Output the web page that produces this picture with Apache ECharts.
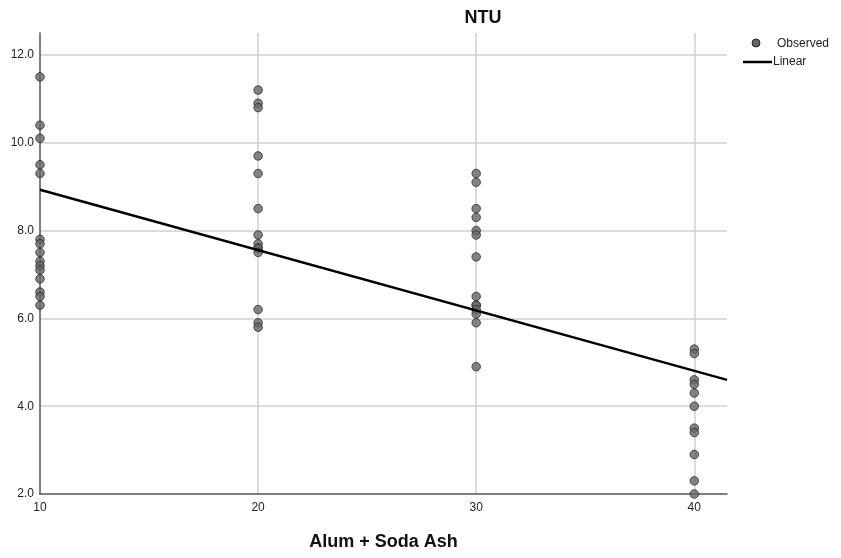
<!DOCTYPE html>
<html>
<head>
<meta charset="utf-8">
<script src="https://cdn.jsdelivr.net/npm/echarts@6/dist/echarts.min.js"></script>
<style>
  html, body { margin: 0; padding: 0; background: #fff; }
  #chart { width: 841px; height: 558px; }
</style>
</head>
<body>
<div id="chart"></div>
<script>
// Dose levels (Alum + Soda Ash) and observed turbidity at each dose
const doses = [10, 20, 30, 40];
const ntuDose10 = [11.5, 10.4, 10.1, 9.5, 9.3, 7.8, 7.7, 7.5, 7.3, 7.2, 7.1, 6.9, 6.6, 6.5, 6.3];
const ntuDose20 = [11.2, 10.9, 10.8, 9.7, 9.3, 8.5, 7.9, 7.7, 7.6, 7.6, 7.5, 6.2, 5.9, 5.8];
const ntuDose30 = [9.3, 9.1, 8.5, 8.3, 8.0, 7.9, 7.4, 6.5, 6.3, 6.3, 6.2, 6.1, 5.9, 4.9];
const ntuDose40 = [5.3, 5.2, 4.6, 4.5, 4.3, 4.0, 3.5, 3.4, 2.9, 2.3, 2.0];
const ntuGroups = [ntuDose10, ntuDose20, ntuDose30, ntuDose40];

// Linear fit of NTU on dose: NTU = fitIntercept + fitSlope * dose
const fitIntercept = 10.305;
const fitSlope = -0.1375;

// Axis ranges
const xMin = 10, xMax = 41.5, xStep = 10;
const yMin = 2, yMax = 12.5, yStep = 2;

const FONT = 'Liberation Sans, Arial, Helvetica, sans-serif';

// Observed points
const observed = [];
doses.forEach((d, i) => ntuGroups[i].forEach(v => observed.push([d, v])));

// Fitted line across the full x range
const fitLine = [xMin, xMax].map(x => [x, fitIntercept + fitSlope * x]);

const chart = echarts.init(document.getElementById('chart'), null, { renderer: 'canvas' });

chart.setOption({
  animation: false,
  backgroundColor: '#ffffff',
  title: {
    text: 'NTU',
    left: 483,
    top: 9,
    padding: 0,
    textAlign: 'center',
    textStyle: { fontFamily: FONT, fontSize: 18, fontWeight: 'bold', color: '#111' }
  },
  grid: { left: 40, right: 114, top: 33, bottom: 64, containLabel: false },
  xAxis: {
    type: 'value',
    min: xMin, max: xMax, interval: xStep,
    name: 'Alum + Soda Ash',
    nameLocation: 'middle',
    nameGap: 39,
    nameTextStyle: { fontFamily: FONT, fontSize: 18, fontWeight: 'bold', color: '#111' },
    axisLine: { show: true, lineStyle: { color: '#555', width: 1.5 } },
    axisTick: { show: false },
    axisLabel: { fontFamily: FONT, fontSize: 12, color: '#222', margin: 8, showMaxLabel: false },
    splitLine: { show: true, showMaxLine: false, showMinLine: false, lineStyle: { color: '#d0d0d0', width: 1.5 } }
  },
  yAxis: {
    type: 'value',
    min: yMin, max: yMax, interval: yStep,
    axisLine: { show: true, lineStyle: { color: '#555', width: 1.5 } },
    axisTick: { show: false },
    axisLabel: {
      fontFamily: FONT, fontSize: 12, color: '#222', margin: 6, showMaxLabel: false,
      formatter: v => v.toFixed(1)
    },
    splitLine: { show: true, showMaxLine: false, showMinLine: false, lineStyle: { color: '#d0d0d0', width: 1.5 } }
  },
  series: [
    {
      name: 'Observed',
      type: 'scatter',
      data: observed,
      symbol: 'circle',
      symbolSize: 8.5,
      itemStyle: { color: '#666666', borderColor: '#2a2a2a', borderWidth: 1 },
      z: 3
    },
    {
      name: 'Linear',
      type: 'line',
      data: fitLine,
      showSymbol: false,
      lineStyle: { color: '#000', width: 2.5 },
      z: 4
    }
  ],
  graphic: [
    { type: 'circle', shape: { cx: 756, cy: 43, r: 4 }, style: { fill: '#666666', stroke: '#2a2a2a', lineWidth: 1 } },
    { type: 'text', left: 777, top: 38, style: { text: 'Observed', font: '12px ' + FONT, fill: '#222' } },
    { type: 'line', shape: { x1: 743, y1: 62, x2: 772, y2: 62 }, style: { stroke: '#000', lineWidth: 2.5 } },
    { type: 'text', left: 773, top: 56, style: { text: 'Linear', font: '12px ' + FONT, fill: '#222' } }
  ]
});
</script>
</body>
</html>
